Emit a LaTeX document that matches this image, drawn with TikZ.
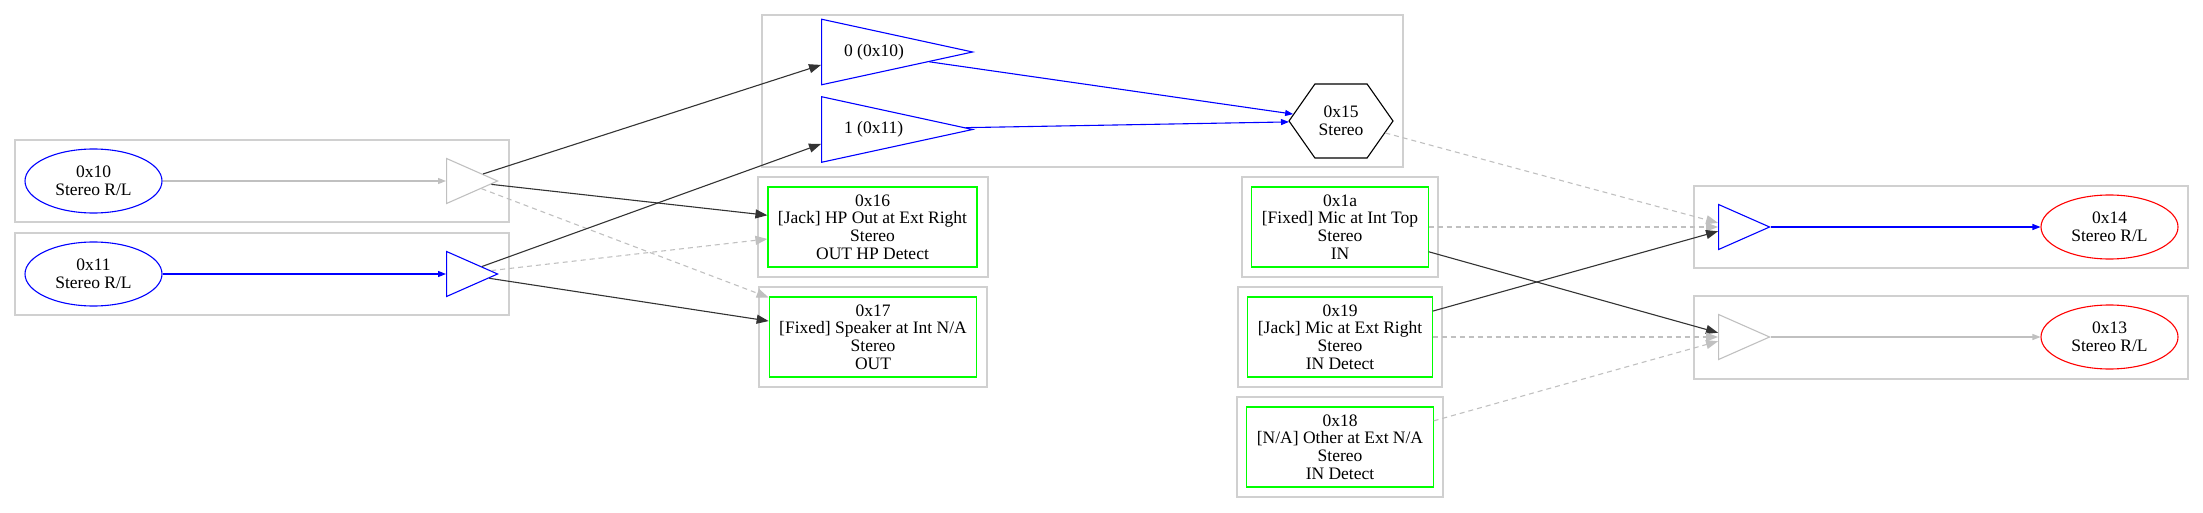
\documentclass[tikz,border=0pt]{standalone}
\usepackage{fontspec}
\setmainfont{Liberation Serif}
\usetikzlibrary{shapes.geometric,shapes.symbols,arrows.meta}
\definecolor{clgray}{RGB}{208,208,208}
\definecolor{edgegray}{RGB}{192,192,192}
\definecolor{pingreen}{RGB}{0,255,0}
\begin{document}
\begin{tikzpicture}[x=1pt,y=-1pt,font=\fontsize{17.5}{17.7}\selectfont,
  cluster/.style={draw=clgray,line width=1.2pt},
  stream/.style={ellipse,draw,line width=1.1pt,minimum width=137pt,minimum height=64pt,align=center,inner sep=0pt},
  amp/.style={isosceles triangle,isosceles triangle stretches,draw,line width=1.1pt,minimum width=45pt,minimum height=51pt,inner sep=0pt,anchor=apex},
  mixamp/.style={amp,minimum width=55pt,minimum height=151pt},
  mixer/.style={signal,signal to=east and west,signal pointer angle=110,draw,line width=1.1pt,minimum width=104pt,minimum height=74pt,align=center,inner sep=0pt},
  pin/.style={rectangle,draw=pingreen,line width=1.1pt,minimum height=80pt,inner xsep=10pt,align=center},
  bigtip/.style={-{Triangle[length=12pt,width=9pt]}},
  smalltip/.style={-{Triangle[length=8pt,width=6pt]}},
  active/.style={draw=black!80,line width=1.1pt,bigtip},
  inactive/.style={draw=edgegray,line width=1.1pt,dash pattern=on 5pt off 4pt,bigtip},
  inner/.style={line width=1.1pt,smalltip}]
\useasboundingbox (0,0) rectangle (2203,513);
% clusters
\draw[cluster] (15,140) rectangle (509,222);
\draw[cluster] (15,233) rectangle (509,315);
\draw[cluster] (762,15) rectangle (1403,167);
\draw[cluster] (758,177) rectangle (988,277);
\draw[cluster] (759,287) rectangle (987,387);
\draw[cluster] (1242,177) rectangle (1438,277);
\draw[cluster] (1238,287) rectangle (1442,387);
\draw[cluster] (1237,397) rectangle (1443,497);
\draw[cluster] (1694,186) rectangle (2188,268);
\draw[cluster] (1694,296) rectangle (2188,379);
% output side
\node[stream,draw=blue] (s10) at (93.5,181) {0x10\\Stereo R/L};
\node[stream,draw=blue] (s11) at (93.5,274) {0x11\\Stereo R/L};
\node[amp,draw=edgegray] (a10) at (499,181) {};
\node[amp,draw=blue] (a11) at (499,274) {};
\node[mixamp,draw=blue] (m0) at (974,52) {\hspace*{13pt}\makebox[47pt][l]{0 (0x10)}};
\node[mixamp,draw=blue] (m1) at (974,129.5) {\hspace*{13pt}\makebox[47pt][l]{1 (0x11)}};
\node[mixer] (x15) at (1341,121) {0x15\\Stereo};
\node[pin] (p16) at (872.5,227) {0x16\\{}[Jack] HP Out at Ext Right\\Stereo\\OUT HP Detect};
\node[pin] (p17) at (873,337) {0x17\\{}[Fixed] Speaker at Int N/A\\Stereo\\OUT};
% input side
\node[pin] (p1a) at (1340,227) {0x1a\\{}[Fixed] Mic at Int Top\\Stereo\\IN};
\node[pin] (p19) at (1340,337) {0x19\\{}[Jack] Mic at Ext Right\\Stereo\\IN Detect};
\node[pin] (p18) at (1340,447) {0x18\\{}[N/A] Other at Ext N/A\\Stereo\\IN Detect};
\node[amp,draw=blue] (a14) at (1771,227) {};
\node[amp,draw=edgegray] (a13) at (1771,337) {};
\node[stream,draw=red] (s14) at (2109.5,227) {0x14\\Stereo R/L};
\node[stream,draw=red] (s13) at (2109.5,337) {0x13\\Stereo R/L};
% connections
\draw[inner,edgegray] (s10) -- (a10);
\draw[inner,blue] (s11) -- (a11);
\draw[active] (a10) -- (m0);
\draw[active] (a10) -- (p16);
\draw[inactive] (a10) -- (p17);
\draw[active] (a11) -- (m1);
\draw[inactive] (a11) -- (p16);
\draw[active] (a11) -- (p17);
\draw[inner,blue] (m0) -- (x15);
\draw[inner,blue] (m1) -- (x15);
\draw[inactive] (x15) -- (a14);
\draw[inactive] (p1a) -- (a14);
\draw[active] (p19) -- (a14);
\draw[active] (p1a) -- (a13);
\draw[inactive] (p19) -- (a13);
\draw[inactive] (p18) -- (a13);
\draw[inner,blue] (a14) -- (s14);
\draw[inner,edgegray] (a13) -- (s13);
\end{tikzpicture}
\end{document}
